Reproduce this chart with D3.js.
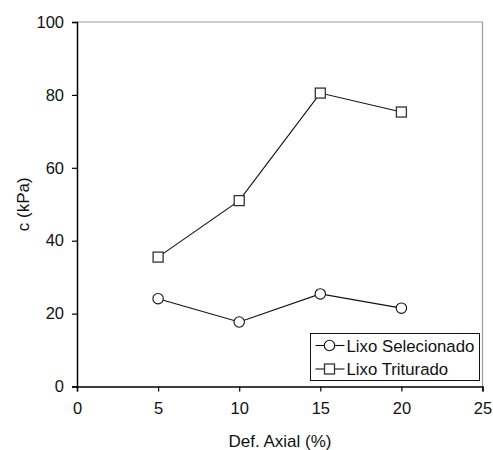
<!DOCTYPE html>
<html>
<head>
<meta charset="utf-8">
<script src="https://cdn.jsdelivr.net/npm/d3@7"></script>
<style>
  body { margin: 0; background: #fff; }
  text { font-family: "Liberation Sans", Arial, sans-serif; fill: #111; }
</style>
</head>
<body>
<div id="chart"></div>
<script>
const WIDTH = 493, HEIGHT = 450;

// data
const deformation = [5, 10, 15, 20];
const selecionado = [24.1, 17.7, 25.4, 21.5];
const triturado = [35.5, 51, 80.5, 75.3];
const seriesNames = ["Lixo Selecionado", "Lixo Triturado"];
const xTicks = [0, 5, 10, 15, 20, 25];
const yTicks = [0, 20, 40, 60, 80, 100];

const margin = { top: 22, right: 10, bottom: 63, left: 77 };

const svg = d3.select("#chart").append("svg")
  .attr("width", WIDTH)
  .attr("height", HEIGHT);

const x = d3.scaleLinear().domain([0, 25]).range([margin.left, WIDTH - margin.right - 0.5]);
const y = d3.scaleLinear().domain([0, 100]).range([HEIGHT - margin.bottom - 0.5, margin.top]);

// grey frame on top and right
svg.append("path")
  .attr("d", `M${x(0)},${y(100)}H${x(25)}V${y(0)}`)
  .attr("fill", "none")
  .attr("stroke", "#999")
  .attr("stroke-width", 1.2);

// axes
const xAxis = svg.append("g")
  .attr("transform", `translate(0,${y(0)})`)
  .call(d3.axisBottom(x).tickValues(xTicks).tickSize(5).tickPadding(11));
const yAxis = svg.append("g")
  .attr("transform", `translate(${x(0)},0)`)
  .call(d3.axisLeft(y).tickValues(yTicks).tickSize(5).tickPadding(8));

[xAxis, yAxis].forEach(g => {
  g.select(".domain").attr("stroke", "#000").attr("stroke-width", 1.5);
  g.selectAll(".tick line").attr("stroke", "#000").attr("stroke-width", 1.2);
  g.selectAll(".tick text")
    .attr("fill", "#111")
    .style("font-family", "'Liberation Sans', Arial, sans-serif")
    .style("font-size", "16.5px");
});

// axis titles
svg.append("text")
  .attr("x", 280)
  .attr("y", 447)
  .attr("text-anchor", "middle")
  .style("font-size", "17px")
  .text("Def. Axial (%)");

svg.append("text")
  .attr("transform", `translate(29,${y(50)}) rotate(-90)`)
  .attr("text-anchor", "middle")
  .style("font-size", "17px")
  .text("c (kPa)");

const line = d3.line()
  .x((d, i) => x(deformation[i]))
  .y(d => y(d));

// Lixo Selecionado: circles
svg.append("path")
  .datum(selecionado)
  .attr("d", line)
  .attr("fill", "none")
  .attr("stroke", "#111")
  .attr("stroke-width", 1.1);

svg.selectAll("circle.sel")
  .data(selecionado)
  .enter().append("circle")
  .attr("class", "sel")
  .attr("cx", (d, i) => x(deformation[i]))
  .attr("cy", d => y(d))
  .attr("r", 5.2)
  .attr("fill", "#fff")
  .attr("stroke", "#111")
  .attr("stroke-width", 1.1);

// Lixo Triturado: squares
svg.append("path")
  .datum(triturado)
  .attr("d", line)
  .attr("fill", "none")
  .attr("stroke", "#111")
  .attr("stroke-width", 1.1);

svg.selectAll("rect.tri")
  .data(triturado)
  .enter().append("rect")
  .attr("class", "tri")
  .attr("x", (d, i) => x(deformation[i]) - 5)
  .attr("y", d => y(d) - 5)
  .attr("width", 10)
  .attr("height", 10)
  .attr("fill", "#fff")
  .attr("stroke", "#333")
  .attr("stroke-width", 1.3);

// legend
const legend = svg.append("g").attr("transform", "translate(310.5,333.5)");
legend.append("rect")
  .attr("width", 169)
  .attr("height", 47)
  .attr("fill", "#fff")
  .attr("stroke", "#111")
  .attr("stroke-width", 1);

seriesNames.forEach((name, i) => {
  const cy = 12 + i * 23.5;
  const row = legend.append("g").attr("transform", `translate(0,${cy})`);
  row.append("line")
    .attr("x1", 5).attr("x2", 34)
    .attr("stroke", "#111").attr("stroke-width", 1.1);
  if (i === 0) {
    row.append("circle").attr("cx", 19).attr("r", 5.2)
      .attr("fill", "#fff").attr("stroke", "#111").attr("stroke-width", 1.1);
  } else {
    row.append("rect").attr("x", 14).attr("y", -5).attr("width", 10).attr("height", 10)
      .attr("fill", "#fff").attr("stroke", "#333").attr("stroke-width", 1.3);
  }
  row.append("text")
    .attr("x", 36)
    .attr("dy", "0.36em")
    .style("font-size", "16.8px")
    .text(name);
});
</script>
</body>
</html>
